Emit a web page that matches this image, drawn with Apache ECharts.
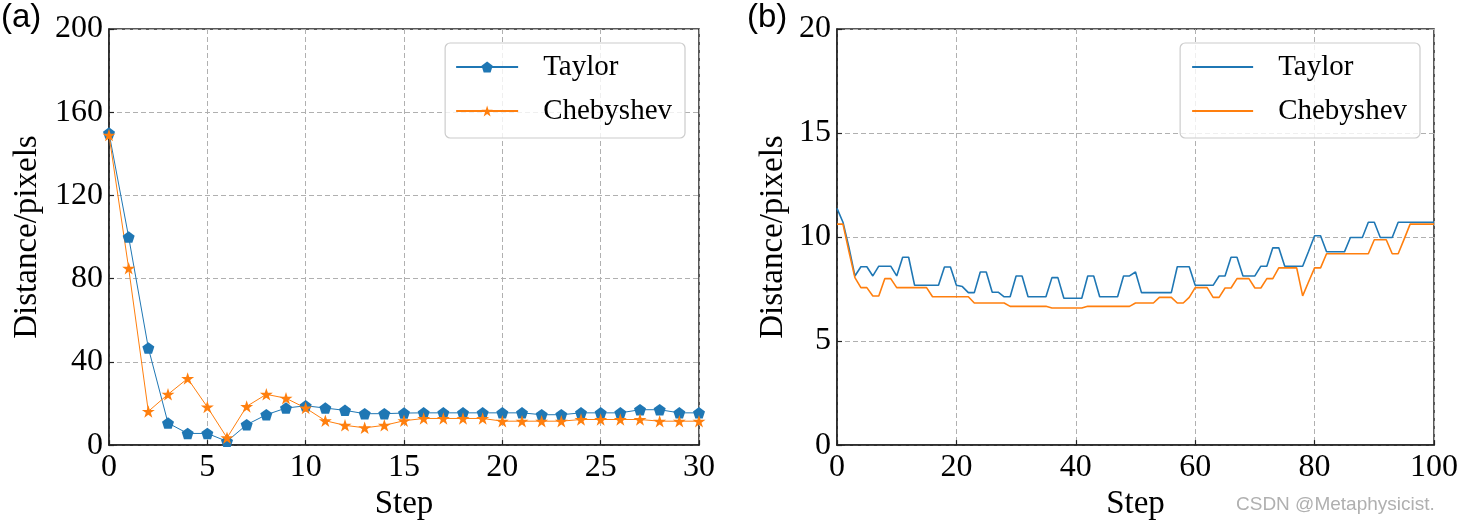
<!DOCTYPE html>
<html><head><meta charset="utf-8">
<script src="https://cdn.jsdelivr.net/npm/echarts@6/dist/echarts.min.js"></script>
<style>html,body{margin:0;padding:0;background:#fff}#c{width:1461px;height:526px}</style>
</head><body><div id="c"></div>
<script>
// ---- data: panel (a) ----
const yTicksA = [0, 40, 80, 120, 160, 200];
const xTicksA = [0, 5, 10, 15, 20, 25, 30];
const taylorA = [150, 100, 46.7, 10.6, 5.6, 5.6, 1.8, 9.8, 14.6, 17.8, 18.9, 17.8, 16.7, 15.1, 15.1, 15.4,
  15.5, 15.5, 15.5, 15.5, 15.5, 15.5, 14.6, 14.6, 15.5, 15.5, 15.5, 17, 17, 15.5, 15.5];
const chebA = [149, 85, 16.2, 24.4, 32, 18.3, 3.5, 18.6, 24.4, 22.5, 17.8, 11.7, 9.5, 8.3, 9.5, 11.7,
  12.8, 12.8, 12.8, 12.8, 11.5, 11.5, 11.5, 11.5, 12.3, 12.3, 12.3, 12.3, 11.5, 11.5, 11.5];
// ---- data: panel (b) ----
const yTicksB = [0, 5, 10, 15, 20];
const xTicksB = [0, 20, 40, 60, 80, 100];
const taylorB = [11.38, 10.71, 9.5, 8.13, 8.57, 8.57, 8.13, 8.6, 8.6, 8.6,
  8.13, 9.03, 9.03, 7.68, 7.68, 7.68, 7.68, 7.68, 8.56, 8.56,
  7.68, 7.62, 7.33, 7.33, 8.32, 8.32, 7.35, 7.35, 7.13, 7.13,
  8.13, 8.13, 7.13, 7.13, 7.13, 7.13, 8.05, 8.05, 7.06, 7.06,
  7.06, 7.06, 8.13, 8.13, 7.13, 7.13, 7.13, 7.13, 8.13, 8.13,
  8.32, 7.33, 7.33, 7.33, 7.33, 7.33, 7.33, 8.57, 8.57, 8.57,
  7.68, 7.68, 7.68, 7.68, 8.13, 8.13, 9.03, 9.03, 8.13, 8.13,
  8.13, 8.6, 8.6, 9.48, 9.48, 8.6, 8.6, 8.6, 8.6, 9.32,
  10.06, 10.06, 9.29, 9.29, 9.29, 9.29, 9.98, 9.98, 9.98, 10.71,
  10.71, 9.98, 9.98, 9.98, 10.71, 10.71, 10.71, 10.71, 10.71, 10.71,
  10.71];
const chebB = [10.62, 10.62, 9.3, 8.05, 7.57, 7.57, 7.17, 7.17, 8.0, 8.0,
  7.57, 7.57, 7.57, 7.57, 7.57, 7.57, 7.13, 7.13, 7.13, 7.13,
  7.13, 7.13, 7.13, 6.83, 6.83, 6.83, 6.83, 6.83, 6.83, 6.67,
  6.67, 6.67, 6.67, 6.67, 6.67, 6.67, 6.59, 6.59, 6.59, 6.59,
  6.59, 6.59, 6.67, 6.67, 6.67, 6.67, 6.67, 6.67, 6.67, 6.67,
  6.83, 6.83, 6.83, 6.83, 7.1, 7.1, 7.1, 6.83, 6.83, 7.1,
  7.57, 7.57, 7.57, 7.1, 7.1, 7.55, 7.55, 8.0, 8.0, 8.0,
  7.55, 7.55, 8.0, 8.0, 8.52, 8.52, 8.52, 8.52, 7.17, 7.85,
  8.52, 8.52, 9.2, 9.2, 9.2, 9.2, 9.2, 9.2, 9.2, 9.2,
  9.87, 9.87, 9.87, 9.2, 9.2, 9.9, 10.62, 10.62, 10.62, 10.62,
  10.62];
const seriesNames = ['Taylor', 'Chebyshev'];

const BLUE = '#1f77b4', ORANGE = '#ff7f0e';
const serif = 'Liberation Serif';
const pent = 'path://M0,-1L0.951,-0.309L0.588,0.809L-0.588,0.809L-0.951,-0.309Z';
const star = 'path://M0,-1L0.2245,-0.309L0.951,-0.309L0.363,0.118L0.588,0.809L0,0.382L-0.588,0.809L-0.363,0.118L-0.951,-0.309L-0.2245,-0.309Z';
const pairs = arr => arr.map((v, i) => [i, v]);

function xAx(idx, ticks) {
  return {
    gridIndex: idx, type: 'value', min: ticks[0], max: ticks[ticks.length - 1], interval: ticks[1] - ticks[0],
    name: 'Step', nameLocation: 'middle', nameGap: 41,
    nameTextStyle: {fontFamily: serif, fontSize: 33, color: '#000'},
    axisLine: {lineStyle: {color: '#222', width: 1.5}},
    axisTick: {inside: true, length: 5, lineStyle: {color: '#222', width: 1.2}},
    axisLabel: {fontFamily: serif, fontSize: 32, color: '#000', margin: 6},
    splitLine: {show: true, lineStyle: {type: [5, 3], color: '#b0b0b0', width: 1}}
  };
}
function yAx(idx, ticks, gap) {
  return {
    gridIndex: idx, type: 'value', min: ticks[0], max: ticks[ticks.length - 1], interval: ticks[1] - ticks[0],
    name: 'Distance/pixels', nameLocation: 'middle', nameGap: gap,
    nameTextStyle: {fontFamily: serif, fontSize: 33, color: '#000'},
    axisLine: {show: true, lineStyle: {color: '#222', width: 1.5}},
    axisTick: {show: true, inside: true, length: 5, lineStyle: {color: '#222', width: 1.2}},
    axisLabel: {fontFamily: serif, fontSize: 32, color: '#000', margin: 6},
    splitLine: {show: true, lineStyle: {type: [5, 3], color: '#b0b0b0', width: 1}}
  };
}
function legend(right, names, extra) {
  return Object.assign({
    data: names, orient: 'vertical', right: right, top: 43,
    itemWidth: 62, itemHeight: 14, itemGap: 10, selectedMode: false,
    formatter: n => n.replace(' (b)', ''),
    backgroundColor: 'rgba(255,255,255,0.8)', borderColor: '#cccccc', borderWidth: 1.2, borderRadius: 5,
    padding: [7, 13, 10, 10],
    textStyle: {fontFamily: serif, fontSize: 29, color: '#000', lineHeight: 34, padding: [0, 0, 0, 20]}
  }, extra || {});
}

const chart = echarts.init(document.getElementById('c'));
chart.setOption({
  animation: false,
  backgroundColor: '#fff',
  grid: [
    {left: 109, top: 29, width: 590, height: 420, show: true, borderColor: '#222', borderWidth: 1.5, backgroundColor: 'transparent'},
    {left: 837, top: 29, width: 598, height: 420, show: true, borderColor: '#222', borderWidth: 1.5, backgroundColor: 'transparent'}
  ],
  xAxis: [xAx(0, xTicksA), xAx(1, xTicksB)],
  yAxis: [yAx(0, yTicksA, 65), yAx(1, yTicksB, 47)],
  legend: [
    legend(776, seriesNames),
    legend(41, seriesNames.map(n => n + ' (b)'), {icon: 'rect', itemHeight: 2, itemWidth: 61, padding: [7, 13, 10, 12]})
  ],
  series: [
    {name: 'Taylor', type: 'line', xAxisIndex: 0, yAxisIndex: 0, data: pairs(taylorA),
     symbol: pent, symbolSize: [12, 11.5], showAllSymbol: true,
     lineStyle: {color: BLUE, width: 1}, itemStyle: {color: BLUE}},
    {name: 'Chebyshev', type: 'line', xAxisIndex: 0, yAxisIndex: 0, data: pairs(chebA),
     symbol: star, symbolSize: [13, 12.5], showAllSymbol: true,
     lineStyle: {color: ORANGE, width: 1}, itemStyle: {color: ORANGE}},
    {name: 'Taylor (b)', type: 'line', xAxisIndex: 1, yAxisIndex: 1, data: pairs(taylorB),
     symbol: 'none', lineStyle: {color: BLUE, width: 1.6}, itemStyle: {color: BLUE}},
    {name: 'Chebyshev (b)', type: 'line', xAxisIndex: 1, yAxisIndex: 1, data: pairs(chebB),
     symbol: 'none', lineStyle: {color: ORANGE, width: 1.6}, itemStyle: {color: ORANGE}}
  ],
  graphic: [
    {type: 'text', left: 1, top: 1, style: {text: '(a)', font: '33px "Liberation Sans"', fill: '#000'}},
    {type: 'text', left: 747, top: 1, style: {text: '(b)', font: '33px "Liberation Sans"', fill: '#000'}},
    {type: 'text', left: 1236, top: 495, style: {text: 'CSDN @Metaphysicist.', font: '19px "Liberation Sans"', fill: '#b0b0b0'}}
  ]
});
</script>
</body></html>
